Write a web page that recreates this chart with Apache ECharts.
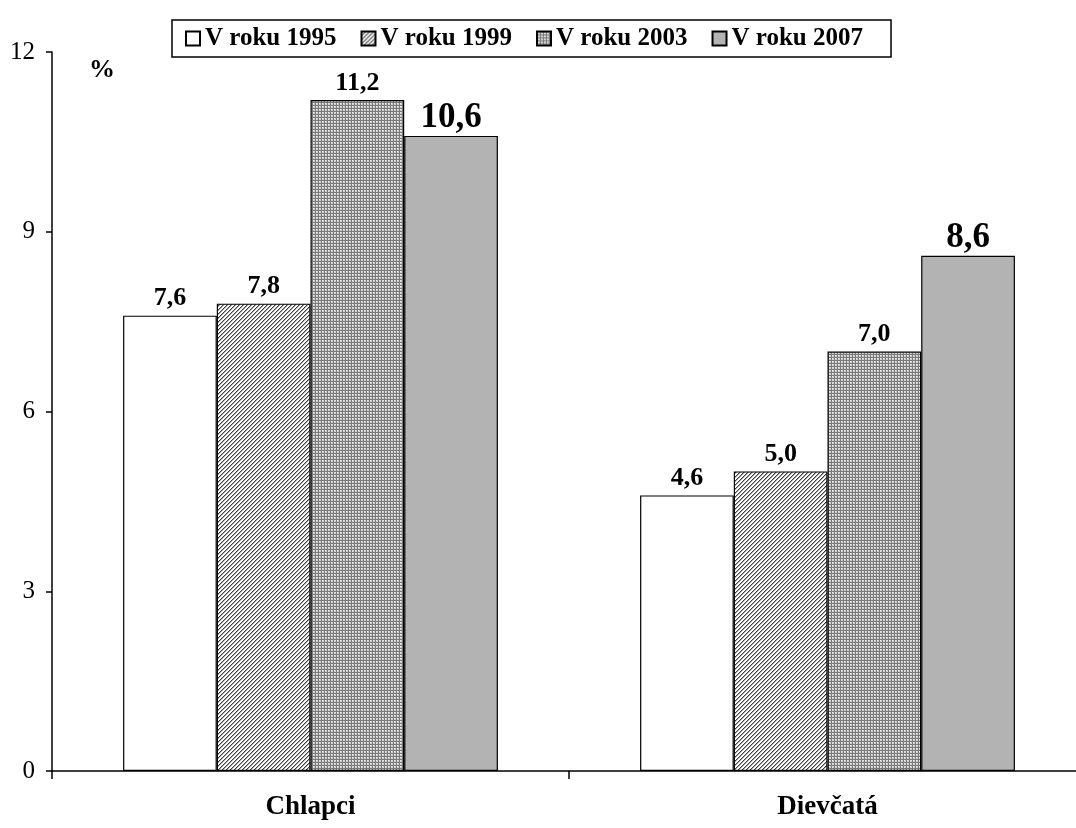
<!DOCTYPE html>
<html>
<head>
<meta charset="utf-8">
<script src="https://cdn.jsdelivr.net/npm/echarts@6/dist/echarts.min.js"></script>
<style>
  html, body { margin: 0; padding: 0; background: #fff; overflow: hidden; width: 1076px; height: 828px; }
  #chart { width: 1086px; height: 828px; }
</style>
</head>
<body>
<div id="chart"></div>
<script>
// kategórie a hodnoty (%)
const categories = ['Chlapci', 'Dievčatá'];
const seriesNames = ['V roku 1995', 'V roku 1999', 'V roku 2003', 'V roku 2007'];
const values1995 = [7.6, 4.6];
const values1999 = [7.8, 5.0];
const values2003 = [11.2, 7.0];
const values2007 = [10.6, 8.6];
const yTicks = [0, 3, 6, 9, 12];

const FONT = '"Liberation Serif", "Times New Roman", serif';

// vzorky výplne (šrafovanie ako v Exceli)
function diagPattern() {
    const c = document.createElement('canvas');
    c.width = 4; c.height = 4;
    const ctx = c.getContext('2d');
    ctx.fillStyle = '#ffffff';
    ctx.fillRect(0, 0, 4, 4);
    for (let y = 0; y < 4; y++) {
        const x = (3 - y + 4) % 4;
        ctx.fillStyle = '#404040';
        ctx.fillRect(x, y, 1, 1);
        ctx.fillStyle = '#a8a8a8';
        ctx.fillRect((x + 1) % 4, y, 1, 1);
    }
    return c;
}

function dotPattern() {
    const c = document.createElement('canvas');
    c.width = 3; c.height = 3;
    const ctx = c.getContext('2d');
    ctx.fillStyle = '#cfcfcf';
    ctx.fillRect(0, 0, 3, 3);
    ctx.fillStyle = '#7a7a7a';
    ctx.fillRect(0, 0, 3, 1);
    ctx.fillRect(0, 0, 1, 3);
    ctx.fillStyle = '#f0f0f0';
    ctx.fillRect(1, 1, 1, 1);
    return c;
}

const fills = [
    '#ffffff',
    { image: diagPattern(), repeat: 'repeat' },
    { image: dotPattern(), repeat: 'repeat' },
    '#b3b3b3'
];
const labelSizes = [26, 26, 26, 35];
const labelDist = [4, 4, 4, 0];
const allValues = [values1995, values1999, values2003, values2007];

const fmt = p => p.value.toFixed(1).replace('.', ',');

const chart = echarts.init(document.getElementById('chart'), null, { renderer: 'canvas' });

chart.setOption({
    animation: false,
    backgroundColor: '#ffffff',
    textStyle: { fontFamily: FONT, color: '#000' },
    legend: {
        top: 20,
        left: 172,
        data: seriesNames,
        itemWidth: 14,
        itemHeight: 14,
        itemGap: 24,
        icon: 'rect',
        padding: [6, 28, 6, 13],
        borderColor: '#000',
        borderWidth: 1.5,
        textStyle: { fontFamily: FONT, fontWeight: 'bold', fontSize: 25, color: '#000', padding: [0, 0, 0, 0] }
    },
    graphic: [{
        type: 'text',
        left: 89,
        top: 57,
        style: { text: '%', font: 'bold 26px ' + FONT, fill: '#000' }
    }],
    grid: { left: 52, top: 52, right: 0, height: 719, containLabel: false },
    xAxis: {
        type: 'category',
        data: categories,
        axisLine: { lineStyle: { color: '#000', width: 1.5 } },
        axisTick: { show: true, length: 8, lineStyle: { color: '#000', width: 1.5 } },
        axisLabel: { margin: 23, fontFamily: FONT, fontWeight: 'bold', fontSize: 27, color: '#000' }
    },
    yAxis: {
        type: 'value',
        min: yTicks[0],
        max: yTicks[yTicks.length - 1],
        interval: 3,
        axisLine: { show: true, lineStyle: { color: '#000', width: 1.5 } },
        axisTick: { show: true, length: 6, lineStyle: { color: '#000', width: 1.5 } },
        axisLabel: { margin: 17, fontFamily: FONT, fontSize: 25, color: '#000' },
        splitLine: { show: false }
    },
    series: seriesNames.map((name, i) => ({
        name: name,
        type: 'bar',
        data: allValues[i],
        barGap: '0%',
        barCategoryGap: '27.5%',
        itemStyle: { color: fills[i], borderColor: '#000', borderWidth: 1.2 },
        label: {
            show: true,
            position: 'top',
            distance: labelDist[i],
            formatter: fmt,
            fontFamily: FONT,
            fontWeight: 'bold',
            fontSize: labelSizes[i],
            color: '#000'
        }
    }))
});
</script>
</body>
</html>
